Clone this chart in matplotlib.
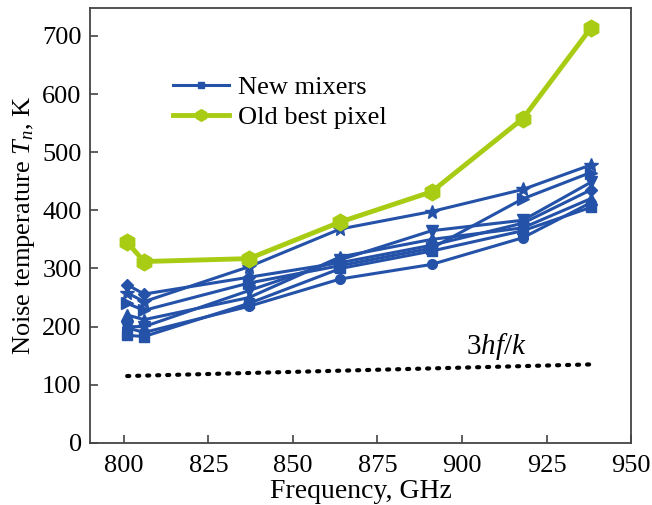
import numpy as np
import matplotlib
matplotlib.use("Agg")
import matplotlib.pyplot as plt

plt.rcParams['font.family'] = ['Liberation Serif', 'DejaVu Serif']
plt.rcParams['mathtext.fontset'] = 'custom'
plt.rcParams['mathtext.rm'] = 'Liberation Serif'
plt.rcParams['mathtext.it'] = 'Liberation Serif:italic'

freq = [801, 806, 837, 864, 891, 918, 938]

old_best = [345, 312, 317, 380, 432, 558, 713]

mix_square = [185, 183, 240, 300, 330, 365, 405]
mix_circle = [198, 190, 235, 282, 307, 353, 413]
mix_diamond = [272, 256, 285, 310, 340, 378, 435]
mix_tri_up = [220, 212, 250, 320, 350, 370, 420]
mix_tri_down = [200, 200, 262, 315, 365, 383, 448]
mix_star = [258, 243, 303, 368, 398, 436, 478]
mix_tri_right = [240, 228, 275, 305, 335, 420, 465]

quantum_freq = [801, 938]
quantum_limit = [115, 135]

blue = '#2452a8'
green = '#a8cc14'

fig = plt.figure(figsize=(6.52, 5.05), dpi=100)
ax = fig.add_axes([0.138, 0.123, 0.830, 0.861])

mixers = [
    (mix_square, 's', 7),
    (mix_circle, 'o', 7),
    (mix_diamond, 'D', 6),
    (mix_tri_up, '^', 9),
    (mix_tri_down, 'v', 8),
    (mix_star, '*', 10),
    (mix_tri_right, '>', 8),
]
for i, (vals, mk, ms) in enumerate(mixers):
    ax.plot(freq, vals, color=blue, lw=2.2, marker=mk, ms=ms,
            label='New mixers' if i == 0 else None)

ax.plot(freq, old_best, color=green, lw=3.5, marker='h', ms=12,
        label='Old best pixel')

ax.plot(quantum_freq, quantum_limit, color='black', lw=3,
        ls=(0, (0.5, 1.9)), dash_capstyle='round')
ax.text(910, 166, '$3hf/k$', fontsize=21, ha='center', va='center')

ax.set_xlim(790, 950)
ax.set_ylim(0, 748)
ax.set_xticks([800, 825, 850, 875, 900, 925, 950])
ax.set_yticks(np.arange(0, 701, 100))
ax.tick_params(direction='in', length=6, width=1.2, labelsize=19,
               color='#444444')
ax.tick_params(axis='x', pad=9)
ax.tick_params(axis='y', pad=6)
for s in ax.spines.values():
    s.set_color('#444444')
    s.set_linewidth(1.3)

ax.set_xlabel('Frequency, GHz', fontsize=20, labelpad=1)
ax.set_ylabel('Noise temperature $T_n$, K', fontsize=19, labelpad=4)

leg = ax.legend(loc='upper left', bbox_to_anchor=(0.11, 0.9), frameon=False,
                fontsize=19, handlelength=2.1, handletextpad=0.35,
                labelspacing=0.25, markerscale=0.7)

fig.savefig('out.png', dpi=100)
